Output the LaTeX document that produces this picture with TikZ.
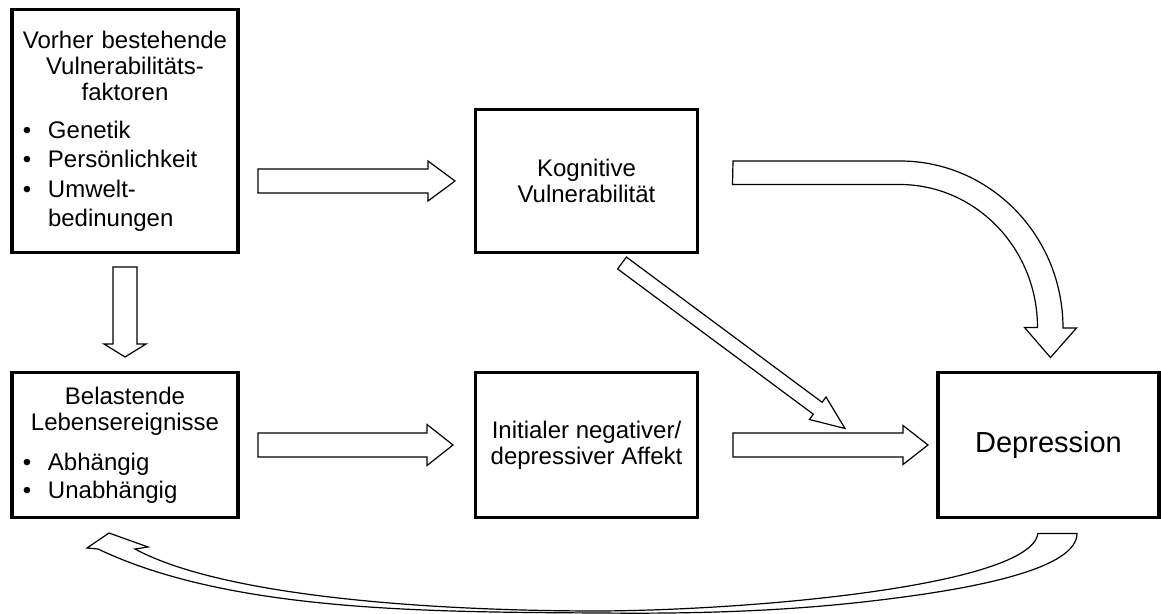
\documentclass[tikz,border=0pt]{standalone}
\usepackage{fontspec}
\setmainfont{Liberation Sans}
\usetikzlibrary{positioning,calc}
\tikzset{
  bx/.style={rectangle,draw,line width=1.8pt,outer sep=0pt,inner sep=2pt,align=center,font=\fontsize{12}{13}\selectfont},
  lbx/.style={rectangle,draw,line width=1.8pt,outer sep=0pt,inner xsep=4.5pt,inner ysep=0pt,font=\fontsize{12}{13}\selectfont},
  blk/.style={draw,fill=white,line width=0.6pt,line join=miter},
}
% bullet line with hanging indent
\newcommand{\bul}[1]{\par\noindent\hangindent=13.5pt\hangafter=1\hbox to 13.5pt{\hspace{1pt}\textbullet\hfil}#1\par}
% hollow block arrow: shaft half width, head half width, head length, from, to
\newcommand{\blockarrow}[5]{%
  \draw[blk] let \p1=(#4), \p2=(#5), \n1={atan2(\y2-\y1,\x2-\x1)} in
    ($(\p1)+(\n1+90:#1)$) -- ($(\p2)+(\n1+180:#3)+(\n1+90:#1)$)
    -- ($(\p2)+(\n1+180:#3)+(\n1+90:#2)$) -- (\p2)
    -- ($(\p2)+(\n1+180:#3)+(\n1-90:#2)$) -- ($(\p2)+(\n1+180:#3)+(\n1-90:#1)$)
    -- ($(\p1)+(\n1-90:#1)$) -- cycle;}

\begin{document}
\begin{tikzpicture}[x=0.5pt,y=-0.5pt]
  \useasboundingbox (0,0) rectangle (1161,614);
  \node[lbx,minimum width=113pt,minimum height=121.5pt,text width=104pt] (vf) at (125,131) {{\centering Vorher bestehende\\Vulnerabilitäts-\\faktoren\par}\vspace{4.6pt}\baselineskip=14.6pt
    \bul{Genetik}\bul{Persönlichkeit}\bul{Umwelt-\newline bedinungen}};
  \node[lbx,below=60pt of vf,minimum width=113pt,minimum height=72.5pt,text width=104pt] (bl) {{\centering Belastende\\Lebensereignisse\par}\vspace{6pt}\baselineskip=14pt
    \bul{Abhängig}\bul{Unabhängig}};
  \node[bx,right=118.75pt of bl,minimum width=111pt,minimum height=72.5pt] (ia) {Initialer negativer/\\depressiver Affekt};
  \node[bx,above=60pt of ia,minimum width=111pt,minimum height=71.5pt] (kv) {Kognitive\\Vulnerabilität};
  \node[bx,right=120.25pt of ia,minimum width=110.5pt,minimum height=72.5pt,font=\fontsize{14.5}{16}\selectfont] (dp) {Depression};

  % arrow ends
  \coordinate (a1s) at ($(vf.east |- kv.west)+(10pt,0)$);
  \coordinate (a1e) at ($(kv.west)+(-10.25pt,0)$);
  \coordinate (a2s) at ($(vf.south)+(0,-7.25pt)$);
  \coordinate (a2e) at ($(bl.north)+(0,7.75pt)$);
  \coordinate (a3s) at ($(bl.east)+(10pt,0)$);
  \coordinate (a3e) at ($(ia.west |- bl.east)+(-11.25pt,0)$);
  \coordinate (a4s) at ($(ia.east)+(17.75pt,0)$);
  \coordinate (a4e) at ($(dp.west)+(-5pt,0)$);
  \coordinate (a5s) at ($(kv.south)+(17.75pt,-5.25pt)$);
  \coordinate (a5e) at ($(dp.west)+(-46.5pt,8.25pt)$);
  \coordinate (a6s) at ($(kv.east)+(17.75pt,4pt)$);
  \coordinate (a6e) at ($(dp.north)+(1pt,7.5pt)$);
  \coordinate (a7s) at ($(dp.south)+(4.5pt,-8pt)$);
  \coordinate (a7e) at ($(bl.south)+(-19pt,-15.25pt)$);

  \blockarrow{6pt}{10pt}{13.5pt}{a1s}{a1e}
  \blockarrow{6pt}{10.5pt}{6.5pt}{a2s}{a2e}
  \blockarrow{6pt}{10.25pt}{13pt}{a3s}{a3e}
  \blockarrow{6pt}{9.75pt}{12.5pt}{a4s}{a4e}
  \blockarrow{3.7pt}{7pt}{17pt}{a5s}{a5e}
  \draw[blk] ([yshift=6pt]a6s) -- ++(83.5pt,0) arc[start angle=90,end angle=0,x radius=81.5pt,y radius=83.5pt]
    -- ++(6.75pt,0) -- (a6e) -- ++(-13pt,15pt) -- ++(6.5pt,0)
    arc[start angle=0,end angle=90,x radius=69pt,y radius=71.5pt] -- ++(-83.5pt,0) -- cycle;
  \draw[blk] ([xshift=9.75pt]a7s) .. controls (1077,568) and (980,588) .. (880,600)
    .. controls (790,611) and (700,614) .. (600,613) .. controls (430,612) and (230,612) .. (98,549)
    -- (a7e) -- ([shift={(11pt,7.5pt)}]a7e) -- ([shift={(30.5pt,0.5pt)}]a7e)
    -- (135,549) .. controls (220,595) and (420,611) .. (600,611)
    .. controls (760,610) and (1030,585) .. ([xshift=-9.75pt]a7s) -- cycle;
\end{tikzpicture}
\end{document}
